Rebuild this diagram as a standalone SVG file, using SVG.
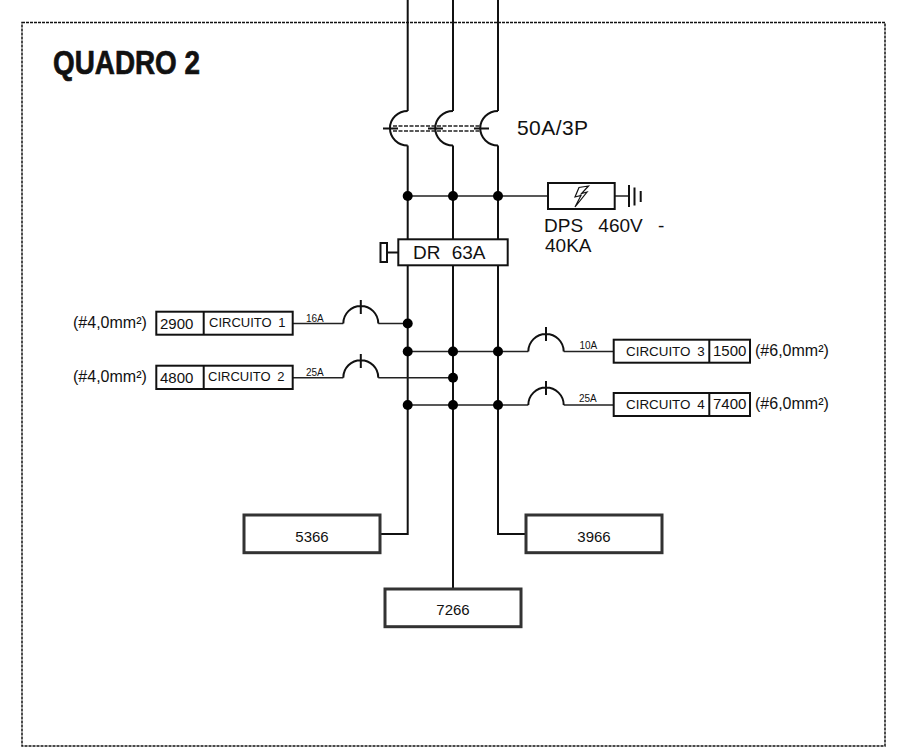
<svg xmlns="http://www.w3.org/2000/svg" width="921" height="750" viewBox="0 0 921 750">
<style>
text{font-family:"Liberation Sans",Arial,sans-serif;fill:#111}
.w{fill:none;stroke:#111;stroke-width:2}
.h{fill:none;stroke:#222;stroke-width:1.6}
.b{fill:#fff;stroke:#111;stroke-width:2}
.t{fill:#fff;stroke:#333;stroke-width:3}
.d{fill:#000}
.c{font-size:13px;word-spacing:3px}
.v{font-size:15px}
.s{font-size:10px}
.m{font-size:16px}
.n{font-size:15px;text-anchor:middle}
.l{font-size:19px;word-spacing:6px}
</style>
<rect width="921" height="750" fill="#fff"/>
<rect id="frame" x="22" y="22.5" width="863" height="723.5" fill="none" stroke="#111" stroke-width="1.5" stroke-dasharray="3 1"/>
<text id="title" x="53" y="74" font-size="33" font-weight="bold" stroke="#111" stroke-width="0.7" textLength="147" lengthAdjust="spacingAndGlyphs">QUADRO 2</text>
<g id="connectors">
<path class="w" d="M407.7 0V111M453 0V111M498 0V111"/>
<path class="w" d="M407.7 111A17.5 17 0 0 0 407.7 145.500M453 111A17.500 17 0 0 0 453 145.500M498 111A17.500 17 0 0 0 498 145.500"/>
<path class="w" d="M383 128.500H398M428 128.500H443M474 128.500H489"/>
<path class="h" stroke-dasharray="4 1.500" d="M393 126H480M393 131H480"/>
<path class="w" d="M407.700 145.500V534H380M453 145.500V589M498 145.500V534H526"/>
<path class="h" d="M407.700 196H548M615 196H629"/>
<path class="h" d="M293 323.500H343.300M378.300 323.500H407.700"/>
<path class="h" d="M293 377.700H343.300M378.300 377.700H453"/>
<path class="h" d="M407.700 351.500H528.300M563.700 351.500H614"/>
<path class="h" d="M407.700 405H528.300M563.700 405H614"/>
<path class="w" d="M343.300 323.500A17.500 17.500 0 0 1 378.300 323.500M360.800 300V314"/>
<path class="w" d="M343.300 377.700A17.500 17.500 0 0 1 378.300 377.700M360.800 354V368"/>
<path class="w" d="M528.300 351.500A17.700 17.500 0 0 1 563.700 351.500M546 327V341"/>
<path class="w" d="M528.300 405A17.700 17.500 0 0 1 563.700 405M546 381V395"/>
<g class="d">
<circle cx="407.700" cy="196" r="5"/><circle cx="453" cy="196" r="5"/><circle cx="498" cy="196" r="5"/>
<circle cx="407.700" cy="323.500" r="5"/>
<circle cx="407.700" cy="351.500" r="5"/><circle cx="453" cy="351.500" r="5"/><circle cx="498" cy="351.500" r="5"/>
<circle cx="453" cy="377.700" r="5"/>
<circle cx="407.700" cy="405" r="5"/><circle cx="453" cy="405" r="5"/><circle cx="498" cy="405" r="5"/>
</g>
</g>
<text id="breaker-label" x="517" y="135" font-size="21" textLength="71">50A/3P</text>
<g id="dps">
<rect class="b" x="548" y="183" width="66.700" height="26"/>
<path fill="none" stroke="#111" stroke-width="1.200" d="M588.500 186L579 187.500L575 197L581 195.500L575 207L587 192L581.500 193.500Z"/>
<path class="w" d="M629 185V207M634.500 187.500V205.500M640.700 191V202"/>
<text class="l" x="544" y="232" style="word-spacing:10px">DPS 460V -</text>
<text class="l" x="545" y="252">40KA</text>
</g>
<g id="dr">
<path class="w" d="M387 252.500H398"/>
<rect class="b" x="380.500" y="243" width="6.500" height="19"/>
<rect class="b" x="398.300" y="239.300" width="109.400" height="26"/>
<text class="l" x="413" y="259">DR 63A</text>
</g>
<g id="circuit-1">
<rect class="b" x="156.300" y="311.700" width="136.400" height="23"/>
<path class="w" d="M203.700 311.700V334.700"/>
<text class="m" x="73" y="328">(#4,0mm²)</text>
<text class="v" x="160" y="329">2900</text>
<text class="c" x="209" y="327">CIRCUITO 1</text>
<text class="s" x="306" y="322">16A</text>
</g>
<g id="circuit-2">
<rect class="b" x="156.300" y="365.700" width="136.400" height="23.300"/>
<path class="w" d="M203.700 365.700V389"/>
<text class="m" x="73" y="382">(#4,0mm²)</text>
<text class="v" x="160" y="383">4800</text>
<text class="c" x="208" y="381">CIRCUITO 2</text>
<text class="s" x="306" y="376">25A</text>
</g>
<g id="circuit-3">
<rect class="b" x="613.700" y="339.700" width="136.300" height="23"/>
<path class="w" d="M709.300 339.700V362.700"/>
<text class="c" x="626" y="356" style="font-size:13.400px">CIRCUITO 3</text>
<text class="v" x="713" y="356">1500</text>
<text class="m" x="755" y="356">(#6,0mm²)</text>
<text class="s" x="579.500" y="349">10A</text>
</g>
<g id="circuit-4">
<rect class="b" x="613.700" y="393" width="136.300" height="23"/>
<path class="w" d="M709.300 393V416"/>
<text class="c" x="626" y="409" style="font-size:13.400px">CIRCUITO 4</text>
<text class="v" x="713" y="409">7400</text>
<text class="m" x="755" y="409">(#6,0mm²)</text>
<text class="s" x="579" y="402">25A</text>
</g>
<g id="load-5366"><rect class="t" x="244" y="515" width="136" height="37.700"/><text class="n" x="312" y="542">5366</text></g>
<g id="load-3966"><rect class="t" x="526" y="515" width="136" height="37.700"/><text class="n" x="594" y="542">3966</text></g>
<g id="load-7266"><rect class="t" x="385" y="589" width="136" height="37.700"/><text class="n" x="453" y="615">7266</text></g>
</svg>
